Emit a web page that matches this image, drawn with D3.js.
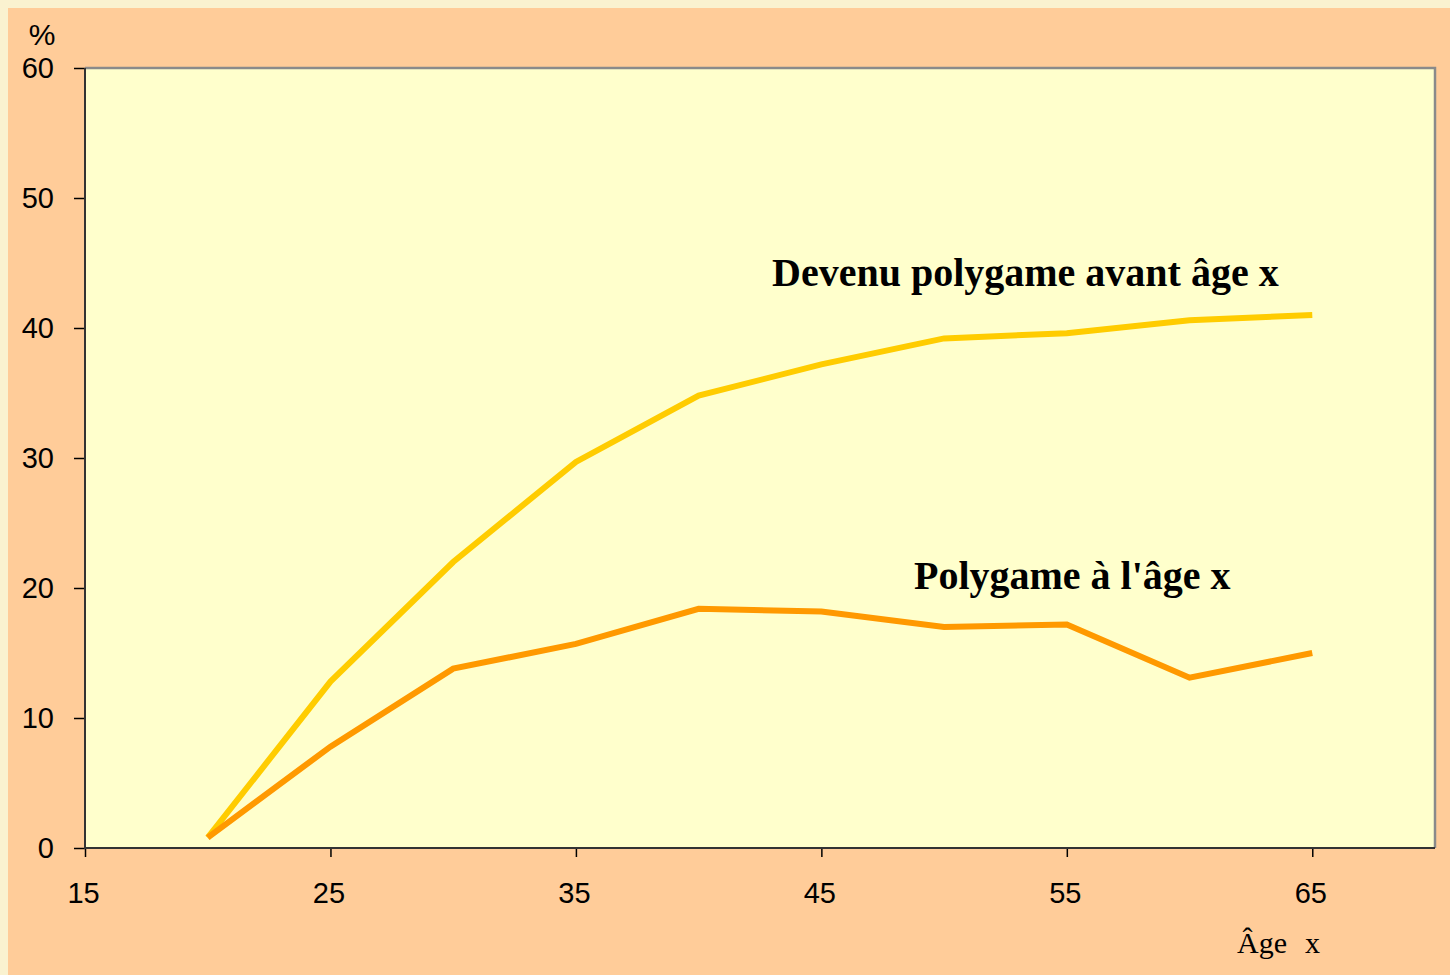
<!DOCTYPE html>
<html>
<head>
<meta charset="utf-8">
<script src="https://cdn.jsdelivr.net/npm/d3@7"></script>
<style>
html,body{margin:0;padding:0;background:#faf2d0;}
svg{display:block;}
</style>
</head>
<body>
<svg id="chart" width="1450" height="975"></svg>
<script>
const ages = [20, 25, 30, 35, 40, 45, 50, 55, 60, 65];
const devenuPolygame = [0.8, 12.8, 22.0, 29.7, 34.8, 37.2, 39.2, 39.6, 40.6, 41.0];
const polygameAge = [0.8, 7.8, 13.8, 15.7, 18.4, 18.2, 17.0, 17.2, 13.1, 15.0];
const xTicks = [15, 25, 35, 45, 55, 65];
const yTicks = [0, 10, 20, 30, 40, 50, 60];

const svg = d3.select("#chart");
svg.append("rect").attr("x", 8).attr("y", 8).attr("width", 1442).attr("height", 967).attr("fill", "#ffcc99");

const L = 85, R = 1435, T = 68, B = 848;
const x = d3.scaleLinear().domain([15, 70]).range([L, R]);
const y = d3.scaleLinear().domain([0, 60]).range([B, T]);

svg.append("rect").attr("x", L).attr("y", T).attr("width", R - L).attr("height", B - T).attr("fill", "#ffffcc");
// top/right grey border
svg.append("path").attr("d", `M${L},${T}H${R}V${B}`).attr("fill", "none").attr("stroke", "#8a8a8a").attr("stroke-width", 2.5);

const line = d3.line().x((d, i) => x(ages[i])).y(d => y(d));
svg.append("path").datum(devenuPolygame).attr("d", line).attr("fill", "none").attr("stroke", "#ffcc00").attr("stroke-width", 6);
svg.append("path").datum(polygameAge).attr("d", line).attr("fill", "none").attr("stroke", "#ff9900").attr("stroke-width", 6);

const yAxis = svg.append("g").attr("transform", `translate(${L},0)`)
  .call(d3.axisLeft(y).tickValues(yTicks).tickSize(11).tickPadding(20).tickFormat(d3.format("d")));
const xAxis = svg.append("g").attr("transform", `translate(0,${B})`)
  .call(d3.axisBottom(x).tickValues(xTicks).tickSize(9).tickPadding(25).tickFormat(d3.format("d")));
[yAxis, xAxis].forEach(g => {
  g.select(".domain").remove();
  g.selectAll("line").attr("stroke", "#000").attr("stroke-width", 1.5);
  g.selectAll("text").attr("font-family", "Liberation Sans, Arial, sans-serif").attr("font-size", 29).attr("fill", "#000");
});
xAxis.selectAll("text").attr("dx", -2);
// left/bottom dark axis lines
svg.append("path").attr("d", `M${L},${T}V${B}H${R}`).attr("fill", "none").attr("stroke", "#333").attr("stroke-width", 2);

svg.append("text").attr("x", 42).attr("y", 45).attr("text-anchor", "middle")
  .attr("font-family", "Liberation Sans, Arial, sans-serif").attr("font-size", 30).text("%");

svg.append("text").attr("x", 772).attr("y", 286)
  .attr("font-family", "Liberation Serif, Times New Roman, serif").attr("font-weight", "bold").attr("font-size", 40)
  .text("Devenu polygame avant âge x");
svg.append("text").attr("x", 914).attr("y", 589)
  .attr("font-family", "Liberation Serif, Times New Roman, serif").attr("font-weight", "bold").attr("font-size", 40)
  .text("Polygame à l'âge x");
const ageLabel = svg.append("text").attr("x", 1237).attr("y", 953)
  .attr("font-family", "Liberation Serif, Times New Roman, serif").attr("font-size", 30);
ageLabel.append("tspan").text("Âge");
ageLabel.append("tspan").attr("x", 1305).text("x");
</script>
</body>
</html>
